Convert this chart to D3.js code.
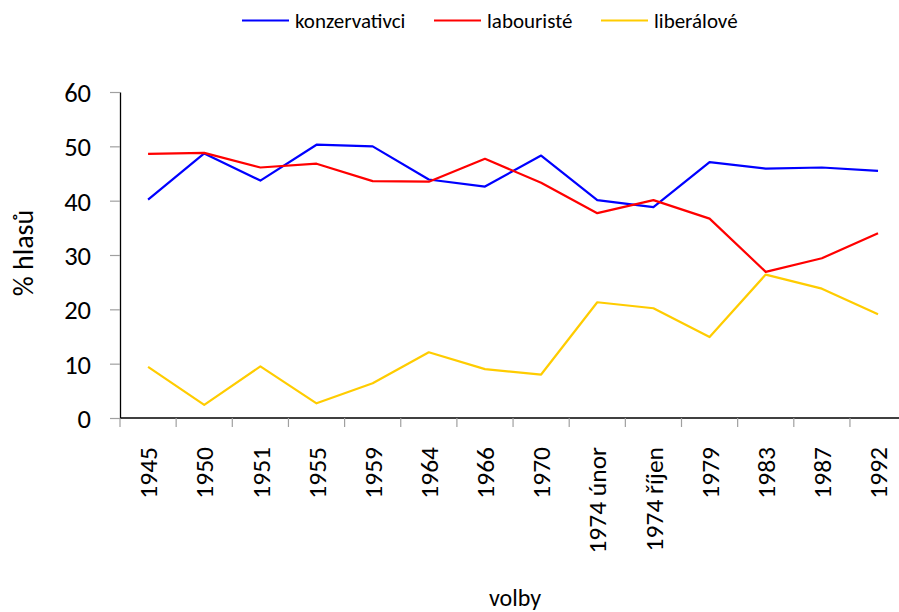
<!DOCTYPE html>
<html>
<head>
<meta charset="utf-8">
<script src="https://cdn.jsdelivr.net/npm/d3@7"></script>
<style>
html,body{margin:0;padding:0;background:#fff;}
svg{display:block;font-family:Carlito,Calibri,Lato,sans-serif;}
</style>
</head>
<body>
<svg id="chart" width="899" height="612"></svg>
<script>
const categories = ["1945","1950","1951","1955","1959","1964","1966","1970","1974 únor","1974 říjen","1979","1983","1987","1992"];
const konzervativci = [40.2,48.7,43.7,50.3,50.0,43.9,42.6,48.3,40.1,38.8,47.1,45.9,46.1,45.5];
const labouriste   = [48.6,48.8,46.1,46.8,43.6,43.5,47.7,43.3,37.7,40.1,36.7,26.9,29.4,34.0];
const liberalove   = [9.4,2.4,9.5,2.7,6.4,12.1,9.0,8.0,21.3,20.2,14.9,26.4,23.8,19.1];
const seriesNames = ["konzervativci","labouristé","liberálové"];
const seriesColors = ["#0000FF","#FF0000","#FFCC00"];
const yTicks = [0,10,20,30,40,50,60];

const series = [konzervativci, labouriste, liberalove];
const svg = d3.select("#chart");
const mLeft = 120, mTop = 92, mBottom = 418, step = 56.15;
const mRight = mLeft + step * categories.length;

const x = d3.scaleBand().domain(categories).range([mLeft, mRight]).paddingInner(0).paddingOuter(0);
const y = d3.scaleLinear().domain([0, 60]).range([mBottom, mTop]);

// Y axis
const yAxis = svg.append("g").attr("transform", `translate(${mLeft},0)`)
  .call(d3.axisLeft(y).tickValues(yTicks).tickSize(10).tickSizeOuter(0).tickPadding(19));
yAxis.selectAll(".tick line").attr("stroke", "#a0a0a0").attr("stroke-width", 1.2);
yAxis.select(".domain").attr("stroke", "#000").attr("stroke-width", 1.3);
yAxis.selectAll("text").attr("font-size", 26.5).attr("fill", "#000").attr("dy", "0.36em")
  .attr("font-family", "Carlito,Calibri,Lato,sans-serif");

// X axis line
svg.append("line").attr("x1", mLeft).attr("x2", mRight).attr("y1", mBottom).attr("y2", mBottom)
  .attr("stroke", "#000").attr("stroke-width", 1.3);
// boundary ticks
const boundaries = categories.map(c => x(c)).concat([mRight]);
svg.append("g").selectAll("line").data(boundaries).join("line")
  .attr("x1", d => d).attr("x2", d => d).attr("y1", mBottom).attr("y2", mBottom + 9)
  .attr("stroke", "#a0a0a0").attr("stroke-width", 1.2);
// x labels
svg.append("g").selectAll("text").data(categories).join("text")
  .attr("transform", d => `translate(${x(d) + x.bandwidth()/2},447) rotate(-90)`)
  .attr("text-anchor", "end").attr("dy", "0.36em")
  .attr("font-size", 25.5).attr("fill", "#000")
  .text(d => d);

// Lines
const line = d3.line().x((d, i) => x(categories[i]) + x.bandwidth()/2).y(d => y(d));
series.forEach((s, k) => {
  svg.append("path").datum(s).attr("d", line)
    .attr("fill", "none").attr("stroke", seriesColors[k]).attr("stroke-width", 2.2)
    .attr("stroke-linejoin", "round");
});

// Axis titles
svg.append("text").attr("transform", "translate(33,253) rotate(-90)")
  .attr("text-anchor", "middle").attr("font-size", 28).text("% hlasů");
svg.append("text").attr("x", 515).attr("y", 606)
  .attr("text-anchor", "middle").attr("font-size", 24).text("volby");

// Legend
const legendX = [242, 434, 601];
const lg = svg.append("g");
seriesNames.forEach((n, k) => {
  lg.append("line").attr("x1", legendX[k]).attr("x2", legendX[k] + 47).attr("y1", 20.5).attr("y2", 20.5)
    .attr("stroke", seriesColors[k]).attr("stroke-width", 2.2);
  lg.append("text").attr("x", legendX[k] + 53).attr("y", 28).attr("font-size", 21).text(n);
});
</script>
</body>
</html>
